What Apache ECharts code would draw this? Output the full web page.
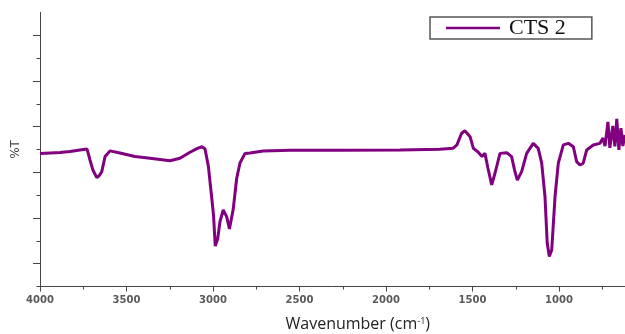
<!DOCTYPE html>
<html>
<head>
<meta charset="utf-8">
<script src="https://cdn.jsdelivr.net/npm/echarts@6/dist/echarts.min.js"></script>
<style>
html,body{margin:0;padding:0;background:#fff;}
#chart{width:625px;height:334px;}
</style>
</head>
<body>
<div id="chart"></div>
<script>
// Wavenumber (cm-1) and transmittance (arbitrary %T units)
var wavenumbers = [4000,3942,3884,3827,3769,3728,3711,3694,3672,3659,3643,3624,3595,3538,3451,3364,3249,3191,3133,3093,3064,3046,3027,3008,2997,2987,2973,2960,2941,2921,2905,2883,2863,2844,2815,2786,2711,2555,2266,1919,1688,1613,1590,1563,1544,1514,1495,1468,1445,1428,1411,1389,1370,1341,1302,1274,1257,1241,1216,1187,1149,1120,1100,1081,1068,1056,1042,1023,1004,975,946,917,898,879,860,840,802,763,746,734,717,706,689,677,666,654,642,631,619];
var transmittance = [58.3,58.5,58.7,59.1,59.8,60.2,55.4,51.0,47.7,48.4,50.3,56.9,59.4,58.5,56.9,56.2,55.1,56.2,58.8,60.4,61.2,60.2,52.8,39.3,31.3,17.7,20.8,28.3,33.5,30.6,25.2,33.9,47.4,54.1,58.3,58.5,59.3,59.7,59.7,59.8,60.1,60.5,62.0,67.1,68.2,65.6,60.5,58.9,56.9,58.3,51.9,44.5,49.6,58.3,58.6,56.9,51.0,46.6,50.3,58.3,62.7,60.5,54.0,39.3,18.9,13.1,16.0,39.3,54.0,62.0,62.7,61.2,54.7,53.2,54.0,59.8,62.0,62.7,65.0,61.5,72.1,60.7,70.3,61.4,73.4,59.8,69.4,61.5,66.4];
var xTicks = [1000,1500,2000,2500,3000,3500,4000];
var yMajorTicks = [10,30,50,70,90,110];
var yMinorTicks = [0,20,40,60,80,100];
var seriesName = 'CTS 2';

var data = wavenumbers.map(function(w,i){return [w, transmittance[i]];});

var chart = echarts.init(document.getElementById('chart'), null, {renderer:'canvas'});
chart.setOption({
  animation:false,
  backgroundColor:'#ffffff',
  grid:{left:40, top:12.5, width:605.5, height:274, containLabel:false, outerBoundsMode:'none'},
  legend:{
    left:430, top:17,
    padding:[0,26,0,16],
    borderColor:'#555', borderWidth:1.5,
    icon:'rect', itemWidth:54, itemHeight:2.5,
    textStyle:{fontFamily:'Liberation Serif', fontSize:22, color:'#111', lineHeight:22, padding:[0,0,0,4]},
    data:[seriesName]
  },
  xAxis:{
    type:'value', inverse:true, min:500, max:4000, interval:500,
    axisLine:{show:true, onZero:false, lineStyle:{color:'#444', width:1}},
    axisTick:{show:true, length:5, lineStyle:{color:'#444'}},
    minorTick:{show:true, splitNumber:2, length:3, lineStyle:{color:'#444'}},
    splitLine:{show:false},
    axisLabel:{fontFamily:'DejaVu Sans', fontWeight:'bold', fontSize:10, color:'#5a5a5a', margin:9,
      formatter:function(v){return xTicks.indexOf(v)>=0 ? String(v) : '';}},
    name:'{a|Wavenumber (cm}{s|-1}{a|)}', nameLocation:'middle', nameGap:30,
    nameTextStyle:{padding:[0,0,0,30], rich:{
      a:{fontFamily:'Open Sans', fontSize:16, color:'#222'},
      s:{fontFamily:'Open Sans', fontSize:9, color:'#222', verticalAlign:'top', padding:[0,0,7,0]}
    }}
  },
  yAxis:[{
    type:'value', min:0, max:120,
    axisLine:{show:true, onZero:false, lineStyle:{color:'#444', width:1}},
    axisTick:{show:true, length:7, customValues:yMajorTicks, lineStyle:{color:'#444'}},
    axisLabel:{show:false},
    splitLine:{show:false},
    name:'%T', nameLocation:'middle', nameGap:18, nameRotate:90,
    nameTextStyle:{fontFamily:'DejaVu Sans', fontSize:12, color:'#444'}
  },{
    type:'value', min:0, max:120, position:'left', offset:0,
    axisLine:{show:false},
    axisTick:{show:true, length:3.5, customValues:yMinorTicks, lineStyle:{color:'#444'}},
    axisLabel:{show:false},
    splitLine:{show:false}
  }],
  series:[{
    name:seriesName, type:'line', data:data, yAxisIndex:0,
    showSymbol:false, symbol:'none', smooth:false,
    lineStyle:{color:'#800080', width:3},
    itemStyle:{color:'#800080'}
  }]
});
</script>
</body>
</html>
